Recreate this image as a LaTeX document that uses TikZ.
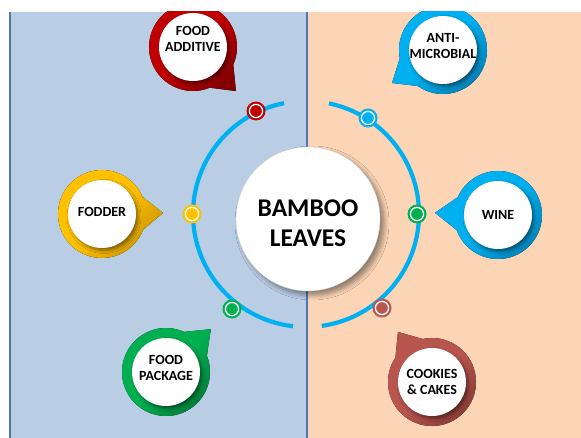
\documentclass[tikz,border=0pt]{standalone}
\usepackage{fontspec}
\setmainfont{Carlito}
\usetikzlibrary{calc,shadows.blur}
\definecolor{panelL}{HTML}{B9CDE5}
\definecolor{panelR}{HTML}{FBD5B5}
\definecolor{lineB}{HTML}{4F78B0}
\definecolor{arcB}{HTML}{00B0F0}
\definecolor{cRed}{HTML}{C00000}
\definecolor{cRedD}{HTML}{840000}
\definecolor{cBlue}{HTML}{00B0F0}
\definecolor{cBlueD}{HTML}{0082B8}
\definecolor{cYel}{HTML}{FFC000}
\definecolor{cYelD}{HTML}{C89400}
\definecolor{cGrn}{HTML}{00B050}
\definecolor{cGrnD}{HTML}{007A38}
\definecolor{cBrn}{HTML}{B8564E}
\definecolor{cBrnD}{HTML}{883A34}
\tikzset{
  innerc/.style={circle, fill=white, minimum size=68pt, inner sep=0pt,
    blur shadow={shadow xshift=2pt, shadow yshift=-2.5pt, shadow blur steps=6,
      shadow opacity=45, shadow blur radius=3pt}},
  lbl/.style={align=center, inner sep=0pt, font=\fontsize{14}{16.7}\selectfont\bfseries},
  dotn/.style={circle, fill=#1, minimum size=19pt, inner sep=0pt,
    path picture={\draw[white, line width=1.3pt] (path picture bounding box.center) circle[radius=6.6pt];}},
  ring/.style 2 args={top color=#1, bottom color=#2, middle color=#1, shading angle=45},
  arcline/.style={draw=arcB, line width=4.2pt},
}
\newcommand\bubble[9]{%
  \coordinate (#1c) at (#2,#3);
  \fill[ring={#4}{#5}] ($(#1c)+(#6+22:44)$) arc[start angle=#6+22, end angle=#6+338, radius=44]
     -- ($(#1c)+(#6:#7)$) -- cycle;
  \node[innerc] (#1) at (#1c) {};
  \node[lbl] (#1t) at ($(#1c)+(0,#9)$) {#8};
}
\begin{document}
\begin{tikzpicture}[x=1pt,y=-1pt]
\useasboundingbox (0,0) rectangle (581,438);
\begin{scope}
\clip (0,12) rectangle (581,438);
\fill[panelL] (9,12) rectangle (307,438);
\fill[panelR] (307,12) rectangle (581,438);
\draw[lineB, line width=1.6pt] (10,12) -- (10,438);
\draw[lineB, line width=1.8pt] (307,12) -- (307,438);

\coordinate (arcc) at (306,214);
\draw[arcline] ($(arcc)+(96.6:113)$) arc[start angle=96.6, end angle=258.8, radius=113];
\draw[arcline] ($(arcc)+(-78.3:113)$) arc[start angle=-78.3, end angle=82, radius=113];

\node[dotn=cRed] (d1) at (256,111) {};
\node[dotn=cYel] (d2) at (192,214) {};
\node[dotn=cGrn] (d3) at (232,309) {};
\node[dotn=cBlue] (d4) at (368,118) {};
\node[dotn=cGrn] (d5) at (417,214) {};
\node[dotn=cBrn] (d6) at (382,308) {};

\node[circle, fill=white, draw=gray!35, minimum size=144pt, inner sep=0pt,
  blur shadow={shadow xshift=4pt, shadow yshift=-4pt, shadow opacity=45,
    shadow blur radius=5pt, shadow blur steps=8}] (center) at (308,219) {};
\node[align=center, inner sep=0pt, font=\fontsize{25.5}{30}\selectfont\bfseries] (ctext) at (308,223) {BAMBOO\\LEAVES};

\bubble{add}{193}{47}{cRed}{cRedD}{45.7}{61.5}{FOOD\\ADDITIVE}{-8}
\bubble{anti}{443}{50}{cBlue}{cBlueD}{147.1}{60.7}{ANTI-\\MICROBIAL}{-4}
\bubble{fod}{102}{214}{cYel}{cYelD}{-1}{61}{FODDER}{-2}
\bubble{wine}{498}{215}{cBlue}{cBlueD}{182}{63}{WINE}{0}
\bubble{pack}{166}{372}{cGrn}{cGrnD}{-43.7}{62}{FOOD\\PACKAGE}{-4}
\bubble{cook}{432}{382}{cBrn}{cBrnD}{235.8}{60.5}{COOKIES\\\& CAKES}{0}
\end{scope}
\end{tikzpicture}
\end{document}
